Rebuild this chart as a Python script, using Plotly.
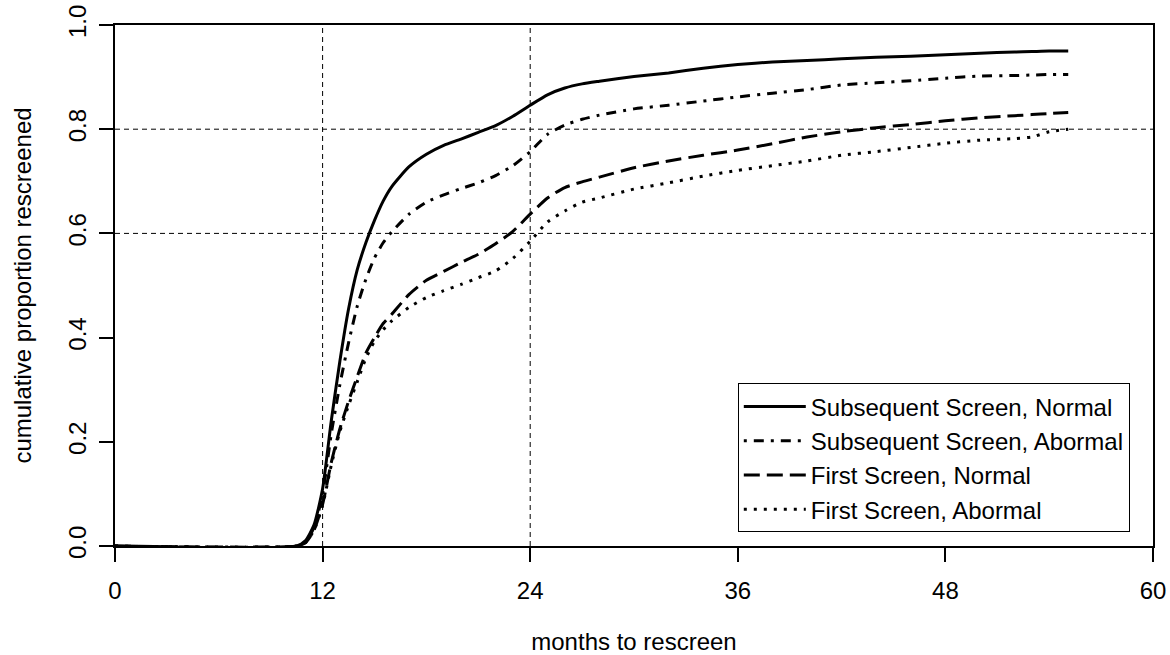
import plotly.graph_objects as go

# ---- data ----
months = [0, 10.5, 11, 11.5, 12, 12.5, 13, 13.5, 14, 14.5, 15, 15.5, 16, 17, 18, 19, 20,
          21, 22, 23, 24, 25, 26, 27, 28, 30, 32, 34, 36, 38, 40, 42, 44, 46, 48, 50,
          52, 53, 54, 55.1]

subsequent_normal = [0, 0, 0.01, 0.04, 0.11, 0.24, 0.355, 0.455, 0.53, 0.582, 0.625, 0.662,
                     0.69, 0.728, 0.752, 0.769, 0.781, 0.794, 0.807, 0.825, 0.846, 0.866,
                     0.879, 0.887, 0.892, 0.901, 0.908, 0.917, 0.924, 0.929, 0.932, 0.935,
                     0.938, 0.940, 0.943, 0.946, 0.948, 0.949, 0.950, 0.950]

subsequent_abnormal = [0, 0, 0.008, 0.035, 0.10, 0.215, 0.31, 0.39, 0.46, 0.512, 0.553, 0.582,
                       0.603, 0.637, 0.66, 0.674, 0.686, 0.697, 0.711, 0.73, 0.757, 0.79,
                       0.808, 0.819, 0.827, 0.839, 0.846, 0.854, 0.862, 0.869, 0.876, 0.885,
                       0.889, 0.893, 0.898, 0.902, 0.903, 0.904, 0.905, 0.905]

first_normal = [0, 0, 0.006, 0.03, 0.08, 0.16, 0.225, 0.278, 0.325, 0.37, 0.40, 0.427,
                0.445, 0.483, 0.51, 0.527, 0.544, 0.56, 0.58, 0.604, 0.637, 0.668,
                0.688, 0.699, 0.708, 0.726, 0.739, 0.75, 0.76, 0.772, 0.785, 0.795,
                0.803, 0.809, 0.816, 0.822, 0.826, 0.828, 0.830, 0.832]

first_abnormal = [0, 0, 0.006, 0.03, 0.078, 0.155, 0.22, 0.27, 0.315, 0.36, 0.393, 0.415,
                  0.432, 0.458, 0.477, 0.49, 0.502, 0.515, 0.528, 0.552, 0.585, 0.622,
                  0.643, 0.66, 0.668, 0.685, 0.697, 0.71, 0.721, 0.73, 0.739, 0.75,
                  0.757, 0.765, 0.773, 0.779, 0.782, 0.785, 0.795, 0.800]

series_names = ["Subsequent Screen, Normal", "Subsequent Screen, Abormal",
                "First Screen, Normal", "First Screen, Abormal"]
series_values = [subsequent_normal, subsequent_abnormal, first_normal, first_abnormal]
series_dash = ["solid", "3px,7px,10px,7px", "16px,7px", "3px,7px"]

ref_months = [12, 24]
ref_props = [0.6, 0.8]

x_ticks = [0, 12, 24, 36, 48, 60]
y_ticks = [0.0, 0.2, 0.4, 0.6, 0.8, 1.0]

FONT = "Liberation Sans, Arial, Helvetica, sans-serif"
FS = 24

fig = go.Figure()
for name, vals, dash in zip(series_names, series_values, series_dash):
    fig.add_trace(go.Scatter(x=months, y=vals, mode="lines", name=name,
                             line=dict(color="black", width=3, dash=dash,
                                       shape="spline", smoothing=0.6)))

for xm in ref_months:
    fig.add_shape(type="line", xref="x", yref="paper", x0=xm, x1=xm, y0=0, y1=1,
                  line=dict(color="black", width=1, dash="5px,4px"), layer="below")
for yp in ref_props:
    fig.add_shape(type="line", xref="paper", yref="y", x0=0, x1=1, y0=yp, y1=yp,
                  line=dict(color="black", width=1, dash="5px,4px"), layer="below")

fig.update_layout(
    width=1170, height=655,
    margin=dict(l=115, r=17, t=25, b=109, autoexpand=False),
    paper_bgcolor="white", plot_bgcolor="white",
    font=dict(family=FONT, size=FS, color="black"),
    showlegend=True,
    legend=dict(x=0.600, y=0.312, xanchor="left", yanchor="top",
                bordercolor="black", borderwidth=1, bgcolor="white",
                font=dict(family=FONT, size=FS, color="black"),
                itemwidth=62, tracegroupgap=0),
    xaxis=dict(range=[0, 60], tickmode="array", tickvals=x_ticks, automargin=False,
               ticks="outside", ticklen=14, tickwidth=1.5, tickcolor="black",
               showline=True, linecolor="black", linewidth=1.5, mirror=True,
               showgrid=False, zeroline=False, ticklabelstandoff=8,
               title=dict(text="months to rescreen", standoff=39,
                          font=dict(family=FONT, size=FS))),
    yaxis=dict(range=[0, 1], tickmode="array", tickvals=y_ticks, tickformat=".1f",
               automargin=False,
               ticks="outside", ticklen=14, tickwidth=1.5, tickcolor="black",
               tickangle=-90, ticklabelstandoff=4,
               showline=True, linecolor="black", linewidth=1.5, mirror=True,
               showgrid=False, zeroline=False,
               title=dict(text="cumulative proportion rescreened", standoff=25,
                          font=dict(family=FONT, size=FS))),
)

fig.write_html(
    "out.html",
    config={"displayModeBar": False},
    post_script="document.body.style.margin='0';document.body.style.overflow='hidden';",
)
